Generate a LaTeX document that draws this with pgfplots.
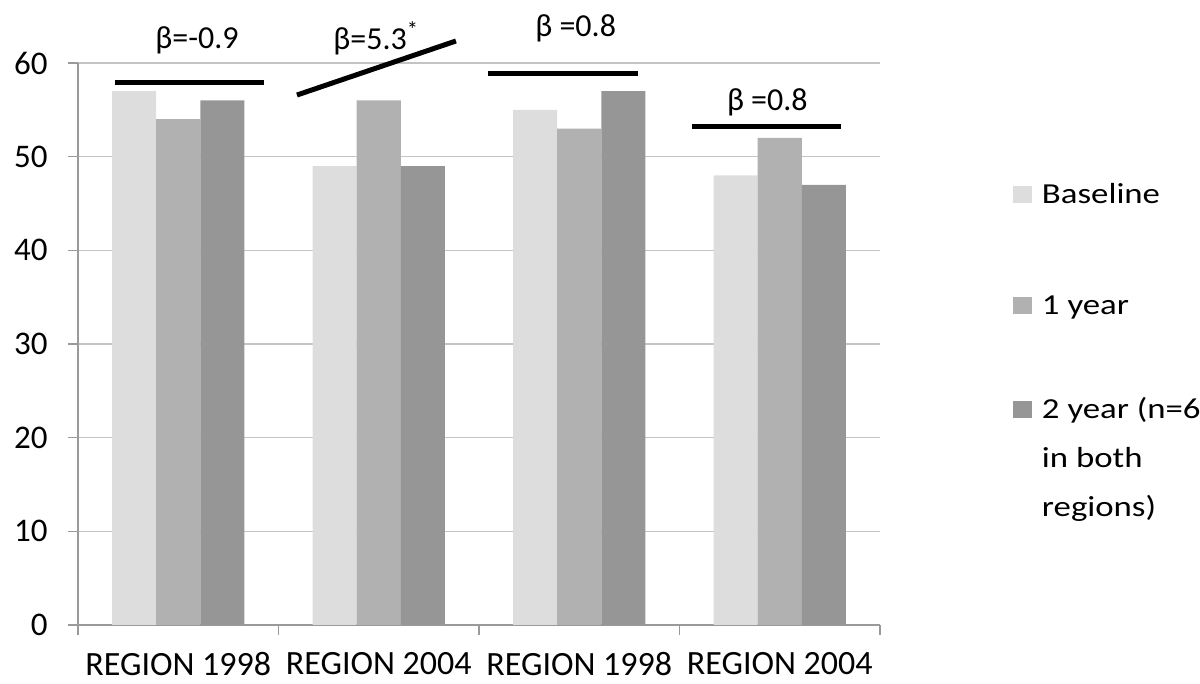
\documentclass[border=0pt]{standalone}
\usepackage{pgfplots}
\pgfplotsset{compat=1.18}
\usepackage{graphicx}
\usepackage{fontspec}
\setmainfont{Carlito}
\definecolor{cBase}{HTML}{DDDDDD}
\definecolor{cOne}{HTML}{B1B1B1}
\definecolor{cTwo}{HTML}{969696}
\definecolor{gridc}{HTML}{C4C4C4}
\definecolor{axc}{HTML}{9A9A9A}
\begin{document}
\begin{tikzpicture}
\begin{axis}[
  at={(0,0)}, anchor=south west,
  scale only axis, width=401pt, height=281pt,
  xmin=-0.5, xmax=3.5, ymin=0, ymax=60,
  ybar=0pt, bar width=0.22,
  axis x line*=bottom, axis y line*=left,
  axis line style={draw=axc, line width=0.6pt, -},
  ytick={0,10,...,60},
  ymajorgrids, grid style={draw=gridc, line width=0.6pt},
  tick align=outside, major tick length=5pt,
  tick style={draw=axc, line width=0.6pt},
  xtick={-0.5,0.5,1.5,2.5,3.5}, xticklabels={},
  extra x ticks={0,1,2,3},
  extra x tick labels={REGION 1998,REGION 2004,REGION 1998,REGION 2004},
  extra x tick style={major tick length=0pt, tick style={draw=none},
    xticklabel style={font=\fontsize{17}{20}\selectfont, inner sep=0pt, anchor=north, yshift=-13.5pt}},
  /pgf/number format/assume math mode=true,
  yticklabel style={font=\fontsize{16.5}{19}\selectfont, inner sep=0pt, anchor=east, xshift=-10pt},
  clip=false,
  legend image code/.code={\fill[#1] (0pt,0pt) rectangle (9.5pt,8.5pt);},
  legend style={at={(axis description cs:1,1)}, anchor=north west,
    xshift=66.5pt, yshift=-58pt, draw=none, fill=none, inner sep=0pt, outer sep=0pt,
    row sep=43.5pt, column sep=5pt,
    nodes={inner sep=0pt, text height=12pt, text depth=0pt},
    cells={anchor=base west},
    font=\fontsize{14.5}{24.5}\selectfont},
]
\addplot[fill=cBase, draw=none] coordinates {(0,57) (1,49) (2,55) (3,48)};
\addlegendentry{\scalebox{1.2}[1]{Baseline}}
\addplot[fill=cOne, draw=none] coordinates {(0,54) (1,56) (2,53) (3,52)};
\addlegendentry{\scalebox{1.2}[1]{1 year}}
\addplot[fill=cTwo, draw=none, legend image code/.code={\path (0pt,0pt); \fill[cTwo] (0pt,7pt) rectangle (9.5pt,15.5pt);}] coordinates {(0,56) (1,49) (2,57) (3,47)};
\addlegendentry{\raisebox{7pt}{\scalebox{1.2}[1]{\begin{tabular}[t]{@{}l@{}}2 year (n=6\\in both\\regions)\end{tabular}}}}

\draw[line width=2.5pt] (axis cs:-0.315,57.9) -- (axis cs:0.428,57.9);
\draw[line width=2.5pt] (axis cs:0.592,56.58) -- (axis cs:1.385,62.35);
\draw[line width=2.5pt] (axis cs:1.545,58.93) -- (axis cs:2.293,58.93);
\draw[line width=2.5pt] (axis cs:2.562,53.17) -- (axis cs:3.305,53.17);
\node[anchor=base west, inner sep=0pt, font=\fontsize{16}{19}\selectfont] at (axis cs:-0.116,61.6) {β=-0.9};
\node[anchor=base west, inner sep=0pt, font=\fontsize{16}{19}\selectfont] at (axis cs:0.772,61.4) {β=5.3\textsuperscript{*}};
\node[anchor=base west, inner sep=0pt, font=\fontsize{16}{19}\selectfont] at (axis cs:1.779,62.88) {β =0.8};
\node[anchor=base west, inner sep=0pt, font=\fontsize{16}{19}\selectfont] at (axis cs:2.735,54.98) {β =0.8};
\end{axis}
\pgfresetboundingbox
\path (-39pt,-29.5pt) rectangle (561pt,312.5pt);
\end{tikzpicture}
\end{document}
